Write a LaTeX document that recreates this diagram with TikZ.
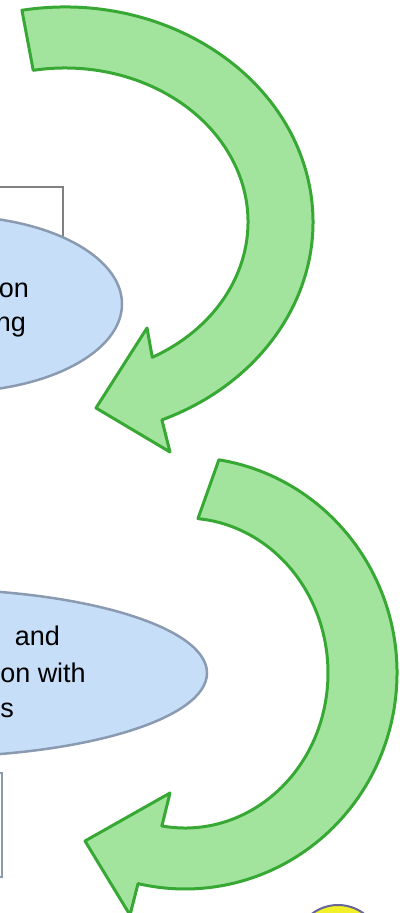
\documentclass[tikz,border=0pt]{standalone}
\usepackage{fontspec}
\setmainfont{Liberation Sans}
\usetikzlibrary{shapes.geometric,calc}

\definecolor{bubblefill}{RGB}{198,222,248}
\definecolor{bubbleline}{RGB}{138,154,176}
\definecolor{arrowfill}{RGB}{162,228,158}
\definecolor{arrowline}{RGB}{56,168,52}
\definecolor{sunfill}{RGB}{242,240,40}

\begin{document}
\begin{tikzpicture}[x=1pt, y=1pt,
    bubble/.style={ellipse, draw=bubbleline, fill=bubblefill, line width=2.5pt, inner sep=0pt},
    bendarrow/.style={draw=arrowline, fill=arrowfill, line width=3pt, line join=round},
    frag/.style={font=\fontsize{27}{32}\selectfont, text=black, inner sep=0pt}]
    \useasboundingbox (0,0) rectangle (399,913);
    \clip (0,0) rectangle (399,913);

    % Boxes (mostly off the page)
    \draw[gray, line width=1.2pt, fill=white] (-120,640) rectangle (63,726);
    \draw[bubbleline, line width=2pt, fill=white] (-120,36) rectangle (1.5,140);

    % Bubbles (centres lie left of the page)
    \node[bubble, minimum width=340pt, minimum height=176pt] (planning) at (-48,609) {};
    \node[bubble, minimum width=562pt, minimum height=168pt] (review) at (-74,240) {};

    % Visible ends of the bubble texts
    \node[frag, anchor=base east] (planA) at (29,615) {on};
    \node[frag, anchor=base east] (planB) at (26,581) {ng};
    \node[frag, anchor=base east] (reviewA) at (60,267) {and};
    \node[frag, anchor=base east] (reviewB) at (86,230) {on with};
    \node[frag, anchor=base east] (reviewC) at (14,195) {s};

    % Top bent arrow
    \coordinate (c1) at (65,691);
    \draw[bendarrow] ($(c1)+(100:248 and 215)$)
        arc[start angle=100, end angle=-67, x radius=248, y radius=215]
        -- (170,461) -- (96,505) -- (147,585)
        -- ($(c1)+(-61.5:183 and 154)$)
        arc[start angle=-61.5, end angle=100, x radius=183, y radius=154] -- cycle;

    % Bottom bent arrow
    \coordinate (c2) at (185,240);
    \draw[bendarrow] ($(c2)+(80.8:212 and 216)$)
        arc[start angle=80.8, end angle=-102.8, x radius=212, y radius=216]
        -- (130,-2) -- (85,72) -- (170,120)
        -- ($(c2)+(-99.3:143 and 155)$)
        arc[start angle=-99.3, end angle=84.8, x radius=143, y radius=155] -- cycle;

    % Yellow disc at the bottom
    \draw[fill=sunfill, draw=gray!80!blue, line width=2pt] (338,-35) circle (43);
\end{tikzpicture}
\end{document}
